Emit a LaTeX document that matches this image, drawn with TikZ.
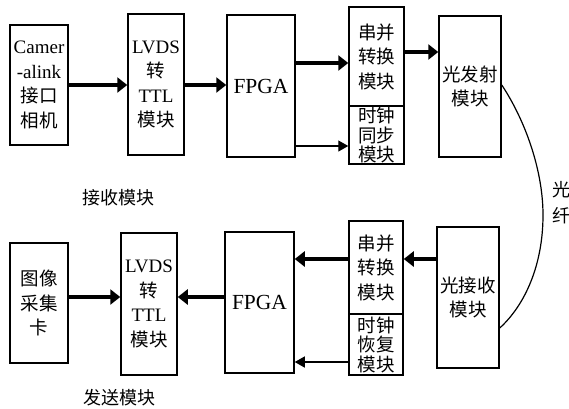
\documentclass[tikz,border=0pt]{standalone}
\usepackage{fontspec}
\setmainfont{Liberation Serif}
\newfontfamily\cjk{Noto Sans CJK SC}
\usetikzlibrary{arrows.meta,calc}
\newcommand{\lat}[1]{{\rmfamily #1}}

\begin{document}
\begin{tikzpicture}[x=1pt,y=-1pt,
  blk/.style={draw, line width=1.5pt, inner sep=0pt, align=center,
    font=\cjk\fontsize{18.5}{24.5}\selectfont},
  tight/.style={font=\cjk\fontsize{18.5}{19.5}\selectfont},
  thk/.style={line width=4pt, -{Triangle[length=10pt,width=15pt]}},
  thn/.style={line width=1.3pt, -{Triangle[length=10pt,width=11pt]}},
  lbl/.style={inner sep=0pt, align=center, font=\cjk\fontsize{18}{26}\selectfont}]
  \useasboundingbox (0,0) rectangle (569,408);

  % Upper chain
  \node[blk, minimum width=58pt, minimum height=120pt] (cam) at (39,85)
    {\lat{\fontsize{19}{24.5}\selectfont Camer}\\\lat{\fontsize{19}{24.5}\selectfont -alink}\\接口\\相机};
  \node[blk, minimum width=56pt, minimum height=141pt] (lvdsA) at (156,84.5)
    {\lat{\fontsize{19}{24.5}\selectfont LVDS}\\转\\\lat{\fontsize{19}{24.5}\selectfont TTL}\\模块};
  \node[blk, minimum width=68pt, minimum height=142pt] (fpgaA) at (261,86)
    {\lat{\fontsize{21.5}{24}\selectfont FPGA}};
  \node[blk, minimum width=55pt, minimum height=99pt] (spA) at (376.5,56.5)
    {串并\\转换\\模块};
  \node[blk, tight, minimum width=55pt, minimum height=58pt] (syncA) at (376.5,135)
    {时钟\\同步\\模块};
  \node[blk, minimum width=62pt, minimum height=141pt] (txA) at (470,86.5)
    {光发射\\模块};

  % Lower chain
  \node[blk, minimum width=58pt, minimum height=120pt] (card) at (39,303)
    {图像\\采集\\卡};
  \node[blk, minimum width=56pt, minimum height=142pt] (lvdsB) at (149,304)
    {\lat{\fontsize{19}{24.5}\selectfont LVDS}\\转\\\lat{\fontsize{19}{24.5}\selectfont TTL}\\模块};
  \node[blk, minimum width=69pt, minimum height=141pt] (fpgaB) at (259.5,302.5)
    {\lat{\fontsize{21.5}{24}\selectfont FPGA}};
  \node[blk, minimum width=54pt, minimum height=93pt] (spB) at (376,267.5)
    {串并\\转换\\模块};
  \node[blk, tight, minimum width=54pt, minimum height=61pt] (recB) at (376,344.5)
    {时钟\\恢复\\模块};
  \node[blk, minimum width=62pt, minimum height=141pt] (rxB) at (468,297.5)
    {光接收\\模块};

  % Labels
  \node[lbl] (rxlbl) at (118,198) {接收模块};
  \node[lbl] (txlbl) at (119,398) {发送模块};
  \node[lbl] (fiblbl) at (561,203) {光\\纤};

  % Upper arrows
  \draw[thk] (cam.east) -- (cam.east -| lvdsA.west);
  \draw[thk] (lvdsA.east |- cam.east) -- (fpgaA.west |- cam.east);
  \coordinate (a1) at ($(spA.west)+(0,6.5)$);
  \draw[thk] (fpgaA.east |- a1) -- (a1);
  \coordinate (a2) at ($(syncA.west)+(0,11)$);
  \draw[thn] (fpgaA.east |- a2) -- (a2);
  \coordinate (a3) at ($(spA.east)+(0,-4.5)$);
  \draw[thk] (a3) -- (a3 -| txA.west);

  % Lower arrows
  \coordinate (b1) at ($(card.east)+(0,-6)$);
  \draw[thk] (b1) -- (b1 -| lvdsB.west);
  \draw[thk] (fpgaB.west |- b1) -- (lvdsB.east |- b1);
  \coordinate (b2) at ($(spB.west)+(0,-8.5)$);
  \draw[thk] (b2) -- (b2 -| fpgaB.east);
  \draw[thk] (rxB.west |- b2) -- (spB.east |- b2);
  \coordinate (b3) at ($(recB.west)+(0,17.5)$);
  \draw[thn] (b3) -- (b3 -| fpgaB.east);

  % Fibre
  \coordinate (f1) at ($(txA.east)+(0,-1.5)$);
  \coordinate (f2) at ($(rxB.east)+(0,30.5)$);
  \draw[line width=1.2pt] (f1) .. controls (525,120) and (543,170) .. (543,215)
    .. controls (543,265) and (525,305) .. (f2);
\end{tikzpicture}
\end{document}
